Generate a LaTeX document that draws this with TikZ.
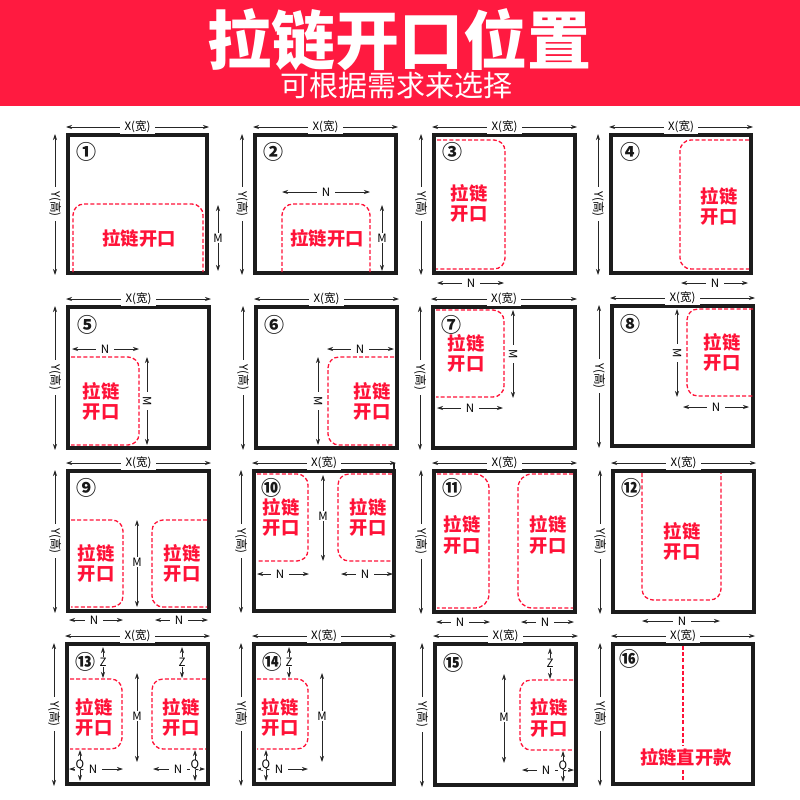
\documentclass[tikz,border=0pt]{standalone}
\usepackage{fontspec}
\setmainfont{Noto Sans CJK SC}
\usetikzlibrary{arrows.meta}
\definecolor{hdrred}{HTML}{FF1A40}
\definecolor{zipred}{HTML}{FF1238}
\definecolor{frameblk}{HTML}{1C1C1C}
\newcounter{dm}
\tikzset{
  frame/.style={draw=frameblk,line width=3.5pt},
  zipline/.style={draw=zipred,line width=1.3pt,dash pattern=on 4pt off 2.2pt,rounded corners=11pt},
  dimline/.style={draw=black!85,line width=0.75pt,{Stealth[length=6pt,width=4pt]}-{Stealth[length=6pt,width=4pt]}},
  dimlabel/.style={fill=white,inner xsep=4.5pt,inner ysep=0.5pt,font=\fontsize{11.5}{12}\selectfont,text=black},
  qlabel/.style={fill=white,inner xsep=0.3pt,inner ysep=0pt,font=\fontsize{11.5}{12}\selectfont,text=black},
  ziptext/.style={text=zipred,font=\fontsize{18.3}{18.3}\selectfont\bfseries,inner sep=0pt},
  numtext/.style={text=black!90,font=\fontsize{20}{20}\selectfont\bfseries,inner sep=0pt}
}
% horizontal dimension: x1,x2,y,labelx,label
\newcommand{\dimh}[5]{\stepcounter{dm}%
  \coordinate (d\arabic{dm}a) at ({#1},{#3});\coordinate (d\arabic{dm}b) at ({#2},{#3});
  \draw[dimline] (d\arabic{dm}a) -- (d\arabic{dm}b);
  \node[dimlabel] (d\arabic{dm}l) at ({#4},{#3}) {#5};}
% vertical dimension: x,y1,y2,labely,label,rotation
\newcommand{\dimv}[6]{\stepcounter{dm}%
  \coordinate (d\arabic{dm}a) at ({#1},{#2});\coordinate (d\arabic{dm}b) at ({#1},{#3});
  \draw[dimline] (d\arabic{dm}a) -- (d\arabic{dm}b);
  \node[dimlabel,rotate=#6] (d\arabic{dm}l) at ({#1},{#4}) {#5};}
% Q dimension (label crosses the N arrow): x,y1,y2,labely
\newcommand{\dimq}[4]{\stepcounter{dm}%
  \coordinate (d\arabic{dm}a) at ({#1},{#2});\coordinate (d\arabic{dm}b) at ({#1},{#3});
  \draw[dimline] (d\arabic{dm}a) -- (d\arabic{dm}b);
  \node[qlabel] (d\arabic{dm}l) at ({#1},{#4}) {Q};}
% panel: L,T,R,B,numx,numy,numeral
\newcommand{\pnl}[7]{\stepcounter{dm}%
  \draw[frame] (#1,#2) rectangle (#3,#4);
  \node[numtext] (n\arabic{dm}) at (#5,#6) {#7};
  \dimh{#1-2}{#3+2}{#2-8}{(#1+#3)/2}{X(宽)}
  \dimv{#1-13}{#2-1}{#4+2}{(#2+#4)/2}{Y(高)}{-90}}
% two-line zip text: x,y1,y2
\newcommand{\zz}[3]{\stepcounter{dm}%
  \node[ziptext] (z\arabic{dm}a) at (#1,#2) {拉链};
  \node[ziptext] (z\arabic{dm}b) at (#1,#3) {开口};}
\newcommand{\zo}[3]{\stepcounter{dm}\node[ziptext] (z\arabic{dm}a) at (#1,#2) {#3};}
\begin{document}
\begin{tikzpicture}[x=1pt,y=-1pt]
\useasboundingbox (0,0) rectangle (800,800);
\fill[white] (0,0) rectangle (800,800);
\fill[hdrred] (0,0) rectangle (800,106);
\node[text=white,inner sep=0pt,font=\fontsize{64}{64}\selectfont\bfseries] (title) at (399,39.5) {拉链开口位置};
\node[text=white,inner sep=0pt,font=\fontsize{29}{29}\selectfont] (subtitle) at (396,86) {可根据需求来选择};

% 1
\pnl{68}{135}{207}{273}{86}{152}{①}
\draw[zipline] (73,272) -- (73,204) -- (203,204) -- (203,272);
\zo{139}{238}{拉链开口}
\dimv{218}{205}{271}{238}{M}{0}
% 2
\pnl{255}{135}{396}{273}{273}{152}{②}
\draw[zipline] (282,272) -- (282,204) -- (370,204) -- (370,272);
\zo{327}{238}{拉链开口}
\dimh{282}{370}{192}{326}{N}
\dimv{382}{205}{271}{238}{M}{0}
% 3
\pnl{434}{135}{575}{273}{452}{152}{③}
\draw[zipline] (437,140) -- (505,140) -- (505,269) -- (436,269);
\zz{469}{193}{214}
\dimh{437}{504}{283}{471}{N}
% 4
\pnl{611}{135}{751}{273}{630}{152}{④}
\draw[zipline] (749,140) -- (680,140) -- (680,269) -- (749,269);
\zz{719}{196}{217}
\dimh{681}{748}{283}{715}{N}
% 5
\pnl{68}{307}{209}{448}{87}{325}{⑤}
\draw[zipline] (71,357) -- (139,357) -- (139,445) -- (71,445);
\zz{101}{391}{412}
\dimh{72}{139}{349}{105}{N}
\dimv{147}{357}{445}{401}{M}{-90}
% 6
\pnl{256}{307}{397}{448}{274}{325}{⑥}
\draw[zipline] (394,357) -- (328,357) -- (328,445) -- (394,445);
\zz{372}{391}{412}
\dimh{327}{394}{349}{360}{N}
\dimv{318}{357}{445}{401}{M}{-90}
% 7
\pnl{433}{307}{575}{448}{451}{325}{⑦}
\draw[zipline] (436,310) -- (504,310) -- (504,397) -- (436,397);
\zz{466}{343}{364}
\dimv{513}{310}{398}{354}{M}{-90}
\dimh{437}{503}{408}{470}{N}
% 8
\pnl{612}{306}{753}{446}{630}{324}{⑧}
\draw[zipline] (753,309) -- (687,309) -- (687,396) -- (753,396);
\zz{722}{342}{363}
\dimv{677}{309}{397}{353}{M}{-90}
\dimh{683}{749}{407}{716}{N}
% 9
\pnl{68}{471}{209}{611}{86}{488}{⑨}
\draw[zipline] (71,520) -- (123,520) -- (123,607) -- (71,607);
\draw[zipline] (207,520) -- (152,520) -- (152,607) -- (207,607);
\zz{96}{553}{574}
\zz{182}{553}{574}
\dimv{137}{520}{607}{562}{M}{0}
\dimh{69}{123}{620}{94}{N}
\dimh{155}{208}{620}{179}{N}
% 10
\pnl{254}{471}{394}{611}{271}{488}{⑩}
\draw[frameblk,line width=2pt] (394,472) -- (394,463);
\draw[zipline] (257,474) -- (308,474) -- (308,561) -- (257,561);
\draw[zipline] (392,474) -- (338,474) -- (338,561) -- (392,561);
\zz{281}{507}{528}
\zz{368}{507}{528}
\dimv{323}{475}{561}{516}{M}{0}
\dimh{257}{309}{574}{280}{N}
\dimh{341}{393}{574}{365}{N}
% 11
\pnl{434}{471}{575}{612}{452}{488}{⑪}
\draw[zipline,rounded corners=14pt] (437,474) -- (489,474) -- (489,608) -- (437,608);
\draw[zipline,rounded corners=14pt] (573,474) -- (518,474) -- (518,608) -- (573,608);
\zz{462}{524}{546}
\zz{548}{524}{546}
\dimh{436}{490}{622}{460}{N}
\dimh{521}{574}{622}{545}{N}
% 12
\pnl{613}{471}{754}{612}{631}{488}{⑫}
\draw[zipline] (642,473) -- (642,600) -- (721,600) -- (721,473);
\zz{682}{531}{552}
\dimh{642}{720}{621}{682}{N}
% 13
\pnl{67}{644}{208}{784}{85}{662}{⑬}
\draw[zipline] (70,679) -- (122,679) -- (122,749) -- (70,749);
\draw[zipline] (206,679) -- (152,679) -- (152,749) -- (206,749);
\zz{94}{707}{728}
\zz{181}{707}{728}
\dimv{103}{647}{678}{662}{Z}{0}
\dimv{182}{647}{678}{662}{Z}{0}
\dimv{137}{673}{762}{716}{M}{0}
\dimh{69}{123}{769}{93}{N}
\dimq{80}{750}{781}{765}
\dimh{153}{205}{769}{178}{N}
\dimq{195}{750}{781}{765}
% 14
\pnl{254}{644}{394}{784}{272}{662}{⑭}
\draw[zipline] (257,679) -- (308,679) -- (308,749) -- (257,749);
\zz{280}{707}{728}
\dimv{289}{647}{678}{662}{Z}{0}
\dimv{322}{673}{762}{716}{M}{0}
\dimh{257}{308}{769}{279}{N}
\dimq{266}{750}{781}{765}
% 15
\pnl{435}{644}{576}{785}{453}{663}{⑮}
\draw[zipline] (573,680) -- (520,680) -- (520,750) -- (573,750);
\zz{549}{707}{729}
\dimv{550}{648}{679}{663}{Z}{0}
\dimv{504}{674}{763}{717}{M}{0}
\dimh{522}{574}{770}{546}{N}
\dimq{563}{751}{782}{766}
% 16
\pnl{613}{644}{753}{784}{629}{659}{⑯}
\draw[zipline] (683,646) -- (683,782);
\node[ziptext,fill=white,inner ysep=2pt] (z16) at (686,757) {拉链直开款};
\end{tikzpicture}
\end{document}
